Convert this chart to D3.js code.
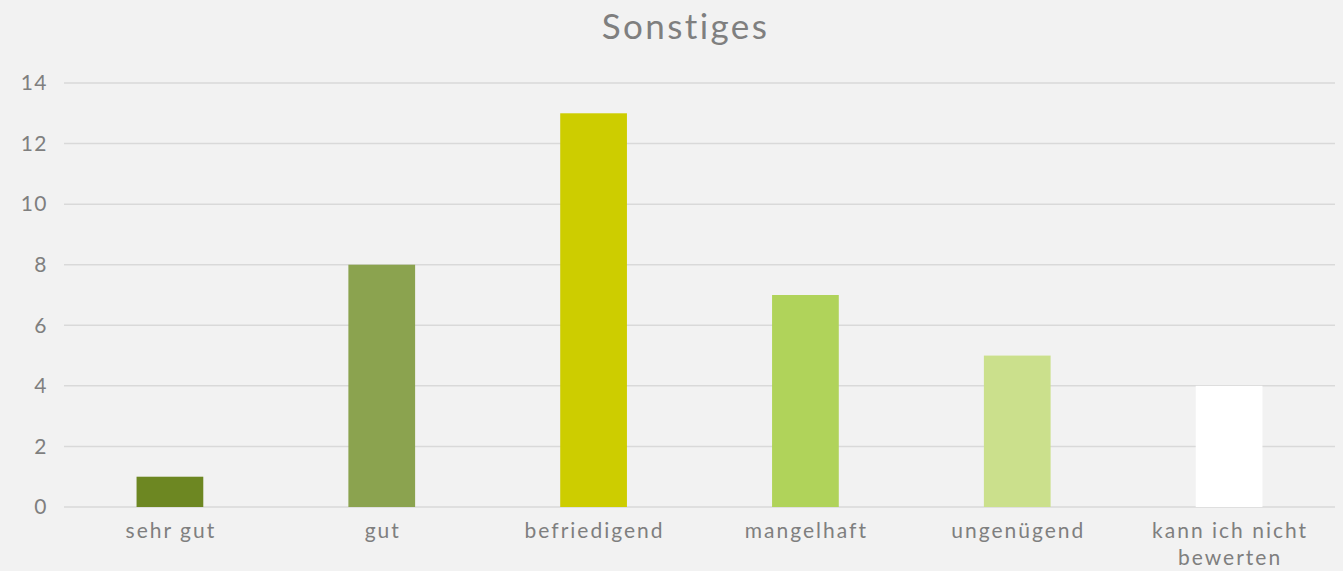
<!DOCTYPE html>
<html>
<head>
<meta charset="utf-8">
<script src="https://cdn.jsdelivr.net/npm/d3@7"></script>
<style>
  body { margin: 0; background: #f2f2f2; }
  svg { display: block; font-family: Lato, "Open Sans", sans-serif; }
</style>
</head>
<body>
<div id="chart"></div>
<script>
'use strict';

var categories = ['sehr gut', 'gut', 'befriedigend', 'mangelhaft', 'ungenügend', 'kann ich nicht bewerten']
var values = [1, 8, 13, 7, 5, 4]
var barColors = ['#6d8722', '#8ba34f', '#cdcd00', '#b0d35a', '#cbe08c', '#ffffff']
var yTicks = [0, 2, 4, 6, 8, 10, 12, 14]

var width = 1343, height = 571
var margin = {top: 83, right: 8, bottom: 64, left: 64}
var w = width - margin.left - margin.right
var h = height - margin.top - margin.bottom

var svg = d3.select('#chart').append('svg')
    .attr('width', width)
    .attr('height', height)

svg.append('rect')
  .attr('width', width).attr('height', height)
  .attr('fill', '#f2f2f2')

// Title
svg.append('text')
  .attr('x', width / 2 + 14)
  .attr('y', 39)
  .attr('text-anchor', 'middle')
  .style('font-size', '35px')
  .style('letter-spacing', '2.4px')
  .style('fill', '#7f7f7f')
  .text('Sonstiges')

var g = svg.append('g')
  .attr('transform', 'translate(' + margin.left + ',' + margin.top + ')')

var x = d3.scaleBand()
  .domain(categories)
  .range([0, 1271])
  .paddingInner(0.685)
  .paddingOuter(0.3425)

var y = d3.scaleLinear()
  .domain([0, 14])
  .range([h, 0])

// Gridlines
g.selectAll('line.grid')
    .data(yTicks)
  .enter().append('line')
    .attr('class', 'grid')
    .attr('x1', 0)
    .attr('x2', 1271)
    .attr('y1', function(d) { return y(d) })
    .attr('y2', function(d) { return y(d) })
    .style('stroke', '#d9d9d9')
    .style('stroke-width', 1.5)

// Y labels
g.selectAll('text.ytick')
    .data(yTicks)
  .enter().append('text')
    .attr('class', 'ytick')
    .attr('x', -16)
    .attr('y', function(d) { return y(d) })
    .attr('dy', '0.35em')
    .attr('text-anchor', 'end')
    .style('font-size', '21px')
    .style('letter-spacing', '1.5px')
    .style('fill', '#7f7f7f')
    .text(function(d) { return d })

// Bars
g.selectAll('rect.bar')
    .data(values)
  .enter().append('rect')
    .attr('class', 'bar')
    .attr('x', function(d, i) { return x(categories[i]) })
    .attr('width', x.bandwidth())
    .attr('y', function(d) { return y(d) })
    .attr('height', function(d) { return y(0) - y(d) })
    .style('fill', function(d, i) { return barColors[i] })

// X labels (wrap the long one)
var xLabels = g.selectAll('text.xlabel')
    .data(categories)
  .enter().append('text')
    .attr('class', 'xlabel')
    .attr('text-anchor', 'middle')
    .style('font-size', '21px')
    .style('letter-spacing', '2px')
    .style('fill', '#7f7f7f')

xLabels.each(function(d) {
  var lines = d === 'kann ich nicht bewerten' ? ['kann ich nicht', 'bewerten'] : [d]
  var t = d3.select(this)
  lines.forEach(function(line, k) {
    t.append('tspan')
      .attr('x', x(d) + x.bandwidth() / 2 + 1)
      .attr('y', h + 31 + k * 27)
      .text(line)
  })
})
</script>
</body>
</html>
